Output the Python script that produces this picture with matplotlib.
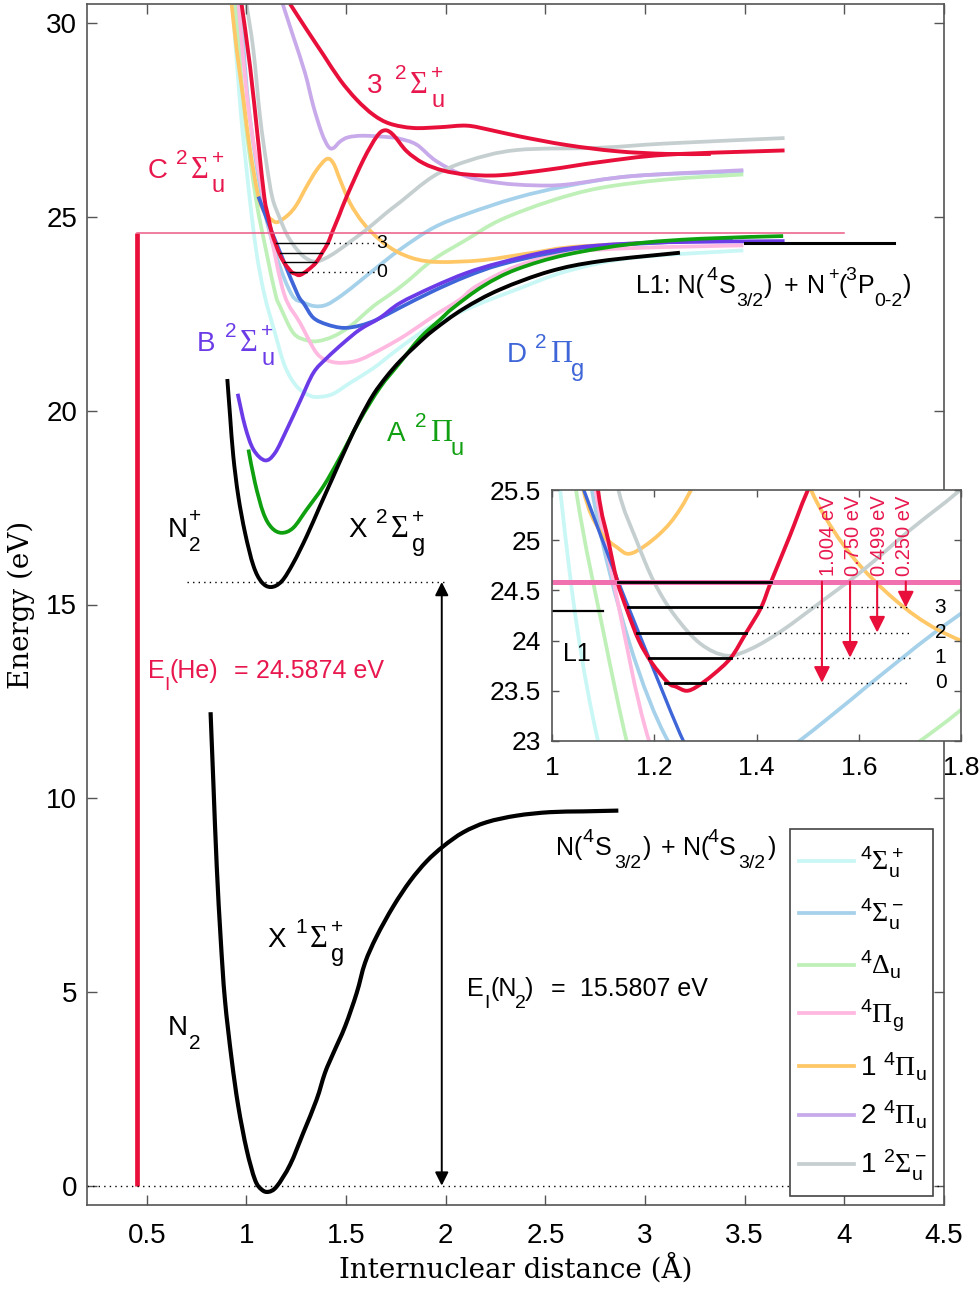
# N2 / N2+ potential energy curves with a zoomed inset

import matplotlib
matplotlib.use("Agg")
import matplotlib.pyplot as plt
from matplotlib.lines import Line2D
from matplotlib.patches import PathPatch, Rectangle
from matplotlib.path import Path

plt.rcParams['font.family'] = ['Liberation Sans', 'DejaVu Sans']
plt.rcParams['mathtext.fontset'] = 'custom'
plt.rcParams['mathtext.rm'] = 'Liberation Sans'
plt.rcParams['mathtext.it'] = 'Liberation Sans'
plt.rcParams['mathtext.bf'] = 'Liberation Serif'

# quartet and doublet states
cyan_x = [.93, .97, 1.016, 1.05, 1.09, 1.143, 1.193, 1.252, 1.319, 1.369, 1.436, 1.52, 1.637, 1.737, 1.837, 1.938, 2.155, 2.355, 2.606, 2.94, 3.493]
cyan_y = [30.5, 27.8, 25.5, 24.1, 23.0, 22.01, 21.15, 20.63, 20.39, 20.36, 20.44, 20.72, 21.1, 21.5, 21.88, 22.22, 22.73, 23.13, 23.6, 23.95, 24.14]
sky_x = [.97, 1.01, 1.078, 1.15, 1.227, 1.285, 1.344, 1.403, 1.478, 1.57, 1.637, 1.77, 1.937, 2.105, 2.355, 2.606, 2.94, 3.493]
sky_y = [30.5, 27.9, 25.5, 24.0, 23.0, 22.8, 22.7, 22.74, 22.98, 23.35, 23.63, 24.16, 24.72, 25.08, 25.5, 25.8, 26.06, 26.18]
mint_x = [.945, .99, 1.047, 1.1, 1.146, 1.168, 1.235, 1.302, 1.36, 1.436, 1.52, 1.637, 1.72, 1.8, 1.937, 2.105, 2.272, 2.523, 2.773, 3.108, 3.493]
mint_y = [30.5, 27.7, 25.5, 24.1, 23.0, 22.7, 22.01, 21.82, 21.8, 21.92, 22.18, 22.7, 23.0, 23.31, 23.9, 24.42, 24.92, 25.41, 25.75, 25.97, 26.1]
pink_x = [.96, 1.01, 1.085, 1.12, 1.19, 1.269, 1.352, 1.419, 1.486, 1.57, 1.687, 1.804, 1.938, 2.07, 2.155, 2.355, 2.606, 2.94, 3.493]
pink_y = [30.5, 27.8, 25.5, 24.6, 23.0, 22.27, 21.49, 21.28, 21.24, 21.32, 21.62, 21.97, 22.44, 22.87, 23.22, 23.73, 24.08, 24.2, 24.27]
orange_x = [.926, .951, .985, 1.018, 1.06, 1.093, 1.127, 1.156, 1.21, 1.252, 1.302, 1.353, 1.403, 1.436, 1.47, 1.52, 1.587, 1.67, 1.754, 1.854, 1.97, 2.188, 2.44, 2.69, 3.4]
orange_y = [30.48, 29.32, 28.03, 26.74, 25.53, 25.1, 24.93, 24.87, 25.06, 25.32, 25.79, 26.22, 26.5, 26.39, 25.96, 25.36, 24.84, 24.41, 24.11, 23.91, 23.84, 23.89, 24.08, 24.25, 24.42]
lilac_x = [1.182, 1.235, 1.294, 1.336, 1.378, 1.411, 1.436, 1.47, 1.511, 1.587, 1.72, 1.77, 1.854, 1.954, 2.105, 2.272, 2.44, 2.606, 2.94, 3.493]
lilac_y = [30.5, 29.66, 28.72, 27.86, 27.17, 26.82, 26.78, 26.95, 27.06, 27.1, 27.06, 27.02, 26.87, 26.44, 26.05, 25.88, 25.82, 25.84, 26.06, 26.21]
grey_x = [1.0, 1.035, 1.068, 1.1, 1.13, 1.165, 1.2, 1.24, 1.29, 1.342, 1.39, 1.45, 1.53, 1.608, 1.7, 1.77, 1.937, 2.105, 2.355, 2.773, 3.108, 3.7]
grey_y = [30.5, 29.3, 27.6, 26.4, 25.5, 25.0, 24.58, 24.25, 23.97, 23.85, 23.92, 24.1, 24.4, 24.7, 25.1, 25.38, 26.05, 26.44, 26.73, 26.79, 26.9, 27.04]

# labelled doublet states of the ion
royal_x = [1.06, 1.095, 1.13, 1.16, 1.191, 1.257, 1.29, 1.336, 1.403, 1.486, 1.57, 1.653, 1.77, 1.937, 2.105, 2.272, 2.523, 2.773, 3.44]
royal_y = [25.53, 25.05, 24.58, 24.2, 23.81, 23.0, 22.75, 22.4, 22.23, 22.14, 22.2, 22.35, 22.66, 23.09, 23.47, 23.77, 24.07, 24.25, 24.44]
purple_x = [.956, .993, 1.035, 1.093, 1.143, 1.202, 1.269, 1.336, 1.403, 1.486, 1.57, 1.67, 1.77, 1.937, 2.105, 2.272, 2.523, 2.773, 3.108, 3.7]
purple_y = [20.44, 19.6, 19.0, 18.72, 18.91, 19.51, 20.25, 20.98, 21.36, 21.75, 22.1, 22.4, 22.78, 23.2, 23.56, 23.82, 24.12, 24.27, 24.35, 24.38]
green_x = [1.01, 1.043, 1.085, 1.127, 1.177, 1.235, 1.302, 1.386, 1.47, 1.57, 1.67, 1.77, 1.871, 1.971, 2.038, 2.188, 2.355, 2.606, 2.94, 3.275, 3.693]
green_y = [19.0, 18.14, 17.36, 16.98, 16.85, 16.98, 17.45, 18.05, 18.8, 19.77, 20.6, 21.24, 21.88, 22.35, 22.66, 23.22, 23.65, 24.03, 24.31, 24.44, 24.51]
red_c_x = [.976, 1.018, 1.06, 1.09, 1.11, 1.127, 1.147, 1.17, 1.195, 1.227, 1.243, 1.263, 1.283, 1.315, 1.35, 1.38, 1.409, 1.428, 1.465, 1.503, 1.587, 1.654, 1.695, 1.737, 1.804, 1.888, 1.988, 2.105, 2.272, 2.523, 2.773, 3.108, 3.7]
red_c_y = [30.48, 28.89, 26.9, 25.5, 25.0, 24.6, 24.3, 24.0, 23.78, 23.58, 23.54, 23.5, 23.54, 23.66, 23.83, 24.08, 24.33, 24.58, 25.04, 25.53, 26.48, 27.08, 27.24, 27.12, 26.7, 26.39, 26.2, 26.1, 26.08, 26.23, 26.42, 26.61, 26.72]
red_3_x = [1.219, 1.302, 1.386, 1.47, 1.553, 1.637, 1.72, 1.837, 1.971, 2.105, 2.222, 2.373, 2.606, 2.857, 3.108, 3.33]
red_3_y = [30.5, 29.84, 29.19, 28.54, 28.03, 27.64, 27.41, 27.3, 27.32, 27.36, 27.25, 27.08, 26.86, 26.7, 26.63, 26.63]
ion_x = [.904, .918, .934, .959, .993, 1.035, 1.076, 1.123, 1.177, 1.235, 1.302, 1.369, 1.436, 1.503, 1.57, 1.637, 1.704, 1.77, 1.854, 1.938, 2.088, 2.272, 2.523, 2.773, 3.175]
ion_y = [20.82, 19.86, 18.83, 17.8, 16.85, 16.0, 15.58, 15.45, 15.6, 16.07, 16.76, 17.54, 18.31, 19.08, 19.8, 20.42, 20.89, 21.28, 21.7, 22.08, 22.63, 23.13, 23.6, 23.86, 24.08]
neutral_x = [.82, .834, .851, .871, .892, .926, .959, 1.001, 1.043, 1.076, 1.11, 1.152, 1.219, 1.285, 1.352, 1.394, 1.436, 1.495, 1.553, 1.595, 1.653, 1.737, 1.821, 1.904, 1.988, 2.088, 2.205, 2.356, 2.523, 2.69, 2.866]
neutral_y = [12.22, 10.4, 8.24, 6.35, 4.8, 3.25, 2.05, .93, .15, -.1, -.16, -.02, .54, 1.36, 2.22, 2.91, 3.42, 4.11, 4.97, 5.75, 6.43, 7.21, 7.86, 8.37, 8.76, 9.12, 9.38, 9.55, 9.64, 9.66, 9.68]

# vibrational levels of C state and He ionisation energy
levels = [23.58, 23.83, 24.08, 24.33, 24.58]
level_left = [1.221, 1.19, 1.166, 1.149, 1.129]
level_right = [1.299, 1.35, 1.38, 1.409, 1.428]
level_names = ['0', '1', '2', '3']
he_energy = 24.5874
n2_energy = 15.5807
l1_energy = 24.33
gap_x = [1.528, 1.583, 1.636, 1.692]
gap_to = [23.58, 23.83, 24.08, 24.33]
gap_names = ['1.004 eV', '0.750 eV', '0.499 eV', '0.250 eV']
gap_label_x = [1.541, 1.59, 1.641, 1.69]

light = [
    (cyan_x, cyan_y, '#c8f7f5', r'$^4\mathbf{\Sigma}_u^+$'),
    (sky_x, sky_y, '#a6d1ea', r'$^4\mathbf{\Sigma}_u^-$'),
    (mint_x, mint_y, '#bff0b8', r'$^4\mathbf{\Delta}_u$'),
    (pink_x, pink_y, '#ffb8e0', r'$^4\mathbf{\Pi}_g$'),
    (orange_x, orange_y, '#ffc766', r'1 $^4\mathbf{\Pi}_u$'),
    (lilac_x, lilac_y, '#c8aaea', r'2 $^4\mathbf{\Pi}_u$'),
    (grey_x, grey_y, '#c6cfd0', r'1 $^2\mathbf{\Sigma}_u^-$'),
]

RED = '#e8103a'
TEXT_RED = '#e8184e'
ROYAL = '#3f66d8'
PURPLE = '#6c3be8'
SPINE = '#555555'
FS = 20
BLACK = 'black'

W, H = 980, 1291
fig = plt.figure(figsize=(W / 100, H / 100), dpi=100)
ax = fig.add_axes([87 / W, 1 - 1205 / H, 857 / W, 1201 / H])


def curve(a, x, y, color, lw):
    # bezier through the read points, control points from the neighbours
    verts = [(x[0], y[0])]
    codes = [Path.MOVETO]
    n = len(x)
    for i in range(n - 1):
        p0 = max(i - 1, 0)
        p3 = min(i + 2, n - 1)
        verts.append((x[i] + (x[i + 1] - x[p0]) / 6, y[i] + (y[i + 1] - y[p0]) / 6))
        verts.append((x[i + 1] - (x[p3] - x[i]) / 6, y[i + 1] - (y[p3] - y[i]) / 6))
        verts.append((x[i + 1], y[i + 1]))
        codes += [Path.CURVE4, Path.CURVE4, Path.CURVE4]
    a.add_patch(PathPatch(Path(verts, codes), facecolor='none', edgecolor=color, lw=lw,
                          capstyle='butt', joinstyle='round'))


def compose(x, y, pieces, color=BLACK, size=FS):
    # one label made of pieces: text, dx and dy in pixels, font size
    for p in pieces:
        fam = ['Liberation Serif'] if p[0] in 'ΣΠ' else ['Liberation Sans']
        ax.annotate(p[0], xy=(x, y), xytext=(p[1], p[2]), textcoords='offset pixels',
                    color=color, fontsize=p[3] if len(p) > 3 else size, family=fam,
                    ha='left', va='baseline')


def state(x, y, head, mult, glyph, sub, sup=None, color=BLACK):
    pieces = [(head, 0, 0), (mult, 28, 14, 15), (glyph, 43, 0, 22), (sub, 64, -14, 17)]
    if sup:
        pieces.append((sup, 64, 14, 15))
    compose(x, y, pieces, color)


handles = []
for x, y, col, name in light:
    curve(ax, x, y, col, 2.7)
    handles.append(Line2D([], [], color=col, lw=2.7, label=name))
curve(ax, royal_x, royal_y, ROYAL, 2.7)
curve(ax, purple_x, purple_y, PURPLE, 2.7)
curve(ax, green_x, green_y, '#0fa010', 2.7)
curve(ax, red_3_x, red_3_y, RED, 2.8)
curve(ax, red_c_x, red_c_y, RED, 2.8)
curve(ax, ion_x, ion_y, BLACK, 2.8)
curve(ax, neutral_x, neutral_y, BLACK, 3)

ax.plot([.45, .45], [0, he_energy], color=RED, lw=3.4, solid_capstyle='butt')
ax.plot([.45, 4.0], [he_energy, he_energy], color='#ec5a85', lw=1.1)
ax.plot([3.5, 4.25], [l1_energy, l1_energy], color=BLACK, lw=2.2)
ax.plot([.2, 4.5], [0, 0], color=BLACK, lw=1, ls=(0, (1, 3)))
ax.plot([.7, 1.995], [n2_energy, n2_energy], color=BLACK, lw=1, ls=(0, (1, 3)))
ax.annotate('', xy=(1.98, 0), xytext=(1.98, n2_energy),
            arrowprops=dict(arrowstyle='<|-|>', color=BLACK, lw=1.4, mutation_scale=20, shrinkA=0, shrinkB=0))

for e, a, b in zip(levels[:4], level_left, level_right):
    ax.plot([a, b], [e, e], color=BLACK, lw=1)
ax.plot([level_right[3], 1.645], [levels[3], levels[3]], color=BLACK, lw=1, ls=(0, (1, 3)))
ax.plot([level_right[0], 1.645], [levels[0], levels[0]], color=BLACK, lw=1, ls=(0, (1, 3)))
ax.text(1.65, levels[3], level_names[3], fontsize=14, va='center')
ax.text(1.65, levels[0], level_names[0], fontsize=14, va='center')

state(1.605, 28.2, '3', '2', 'Σ', 'u', '+', TEXT_RED)
state(.506, 26.0, 'C', '2', 'Σ', 'u', '+', TEXT_RED)
state(.752, 21.55, 'B', '2', 'Σ', 'u', '+', PURPLE)
state(2.307, 21.27, 'D', '2', 'Π', 'g', None, ROYAL)
state(1.705, 19.23, 'A', '2', 'Π', 'u', None, '#11a011')
state(1.51, 16.75, 'X', '2', 'Σ', 'g', '+')
state(1.103, 6.17, 'X', '1', 'Σ', 'g', '+')
compose(.606, 16.75, [('N', 0, 0), ('2', 21, -14, 15), ('+', 21, 15, 15)])
compose(.606, 3.9, [('N', 0, 0), ('2', 21, -14, 15)])
compose(2.955, 23.05, [('L1: N(', 0, 0), ('4', 70, 13, 14), ('S', 83, 0), ('3/2', 100, -13, 14), (')', 128, 0),
                       ('+', 148, 0), ('N', 171, 0), ('+', 192, 13, 13), ('(', 202, 0), ('3', 209, 13, 14),
                       ('P', 222, 0), ('0-2', 238, -13, 14), (')', 267, 0)], size=18)
compose(2.553, 8.54, [('N(', 0, 0), ('4', 27, 13, 14), ('S', 39, 0), ('3/2', 58, -13, 14), (')', 87, 0),
                      ('+', 105, 0), ('N(', 127, 0), ('4', 152, 13, 14), ('S', 163, 0), ('3/2', 182, -13, 14),
                      (')', 212, 0)], size=18)
compose(.506, 13.09, [('E', 0, 0), ('I', 16, -12, 14), ('(He)', 22, 0), ('=', 86, 0), ('24.5874 eV', 108, 0)],
        color=TEXT_RED, size=18)
compose(2.107, 4.9, [('E', 0, 0), ('I', 17, -12, 14), ('(N', 23, 0), ('2', 48, -12, 14), (')', 58, 0), ('=', 84, 0),
                     ('15.5807 eV', 113, 0)], size=18)

ax.set_xlim(.2, 4.5)
ax.set_ylim(-.5, 30.5)
ax.set_xticks([.5, 1, 1.5, 2, 2.5, 3, 3.5, 4, 4.5])
ax.set_xticklabels(['0.5', '1', '1.5', '2', '2.5', '3', '3.5', '4', '4.5'])
ax.set_yticks([0, 5, 10, 15, 20, 25, 30])
ax.tick_params(direction='in', top=True, right=True, length=7, width=1, color=SPINE, labelsize=FS, pad=7)
ax.tick_params(axis='x', pad=13)
for s in ax.spines.values():
    s.set_color(SPINE)
    s.set_linewidth(1.2)
ax.set_xlabel('Internuclear distance (Å)', family='DejaVu Serif', fontsize=FS, labelpad=3)
ax.set_ylabel('Energy (eV)', family='DejaVu Serif', fontsize=FS, labelpad=8)

# legend frame is its own box so the rows can sit tighter than the padding would allow
ax.add_patch(Rectangle(((790 - 87) / 857, (1205 - 1196) / 1201), 143 / 857, 367 / 1201, transform=ax.transAxes,
                       facecolor='white', edgecolor='#444444', lw=1.2, zorder=4))
leg = ax.legend(handles=handles, loc='center', bbox_to_anchor=((863 - 87) / 857, (1205 - 1014) / 1201), borderaxespad=0,
                fontsize=FS, frameon=False, handlelength=1.97, handletextpad=.2, labelspacing=.6, borderpad=0)

# inset
ins = fig.add_axes([552 / W, 1 - 741 / H, 409 / W, 251 / H])
for x, y, col, name in light:
    curve(ins, x, y, col, 2.7)
curve(ins, royal_x, royal_y, ROYAL, 2.4)
ins.plot([1, 1.8], [he_energy, he_energy], color='#f070b0', lw=3.6)
curve(ins, red_c_x, red_c_y, RED, 2.8)
ins.plot([1, 1.1], [24.29, 24.29], color=BLACK, lw=1.6)
for e, a, b in zip(levels, level_left, level_right):
    ins.plot([a, b], [e, e], color=BLACK, lw=2)
for e, b in zip(levels[:4], level_right[:4]):
    ins.plot([b, 1.7], [e, e], color=BLACK, lw=1, ls=(0, (1, 3)))
for e, name in zip(levels[:4], level_names):
    ins.text(1.76, e, name, fontsize=15, va='center', ha='center')
for x, to in zip(gap_x, gap_to):
    ins.annotate('', xy=(x, to), xytext=(x, he_energy),
                 arrowprops=dict(arrowstyle='-|>', color=RED, lw=1.5, mutation_scale=24, shrinkA=0, shrinkB=0))
for x, name in zip(gap_label_x, gap_names):
    ins.text(x, 24.64, name, rotation=90, color=TEXT_RED, fontsize=14.5, ha='center', va='bottom')
ins.text(1.022, 23.8, 'L1', fontsize=FS - 2)
ins.set_xlim(1, 1.8)
ins.set_ylim(23, 25.5)
ins.set_xticks([1, 1.2, 1.4, 1.6, 1.8])
ins.set_xticklabels(['1', '1.2', '1.4', '1.6', '1.8'])
ins.set_yticks([23, 23.5, 24, 24.5, 25, 25.5])
ins.set_yticklabels(['23', '23.5', '24', '24.5', '25', '25.5'])
ins.tick_params(direction='in', top=True, right=True, length=5, width=1, color=SPINE, labelsize=FS - 1, pad=8)
ins.tick_params(axis='x', pad=11)
for s in ins.spines.values():
    s.set_color(SPINE)
    s.set_linewidth(1.2)

fig.savefig('out.png', dpi=100)
